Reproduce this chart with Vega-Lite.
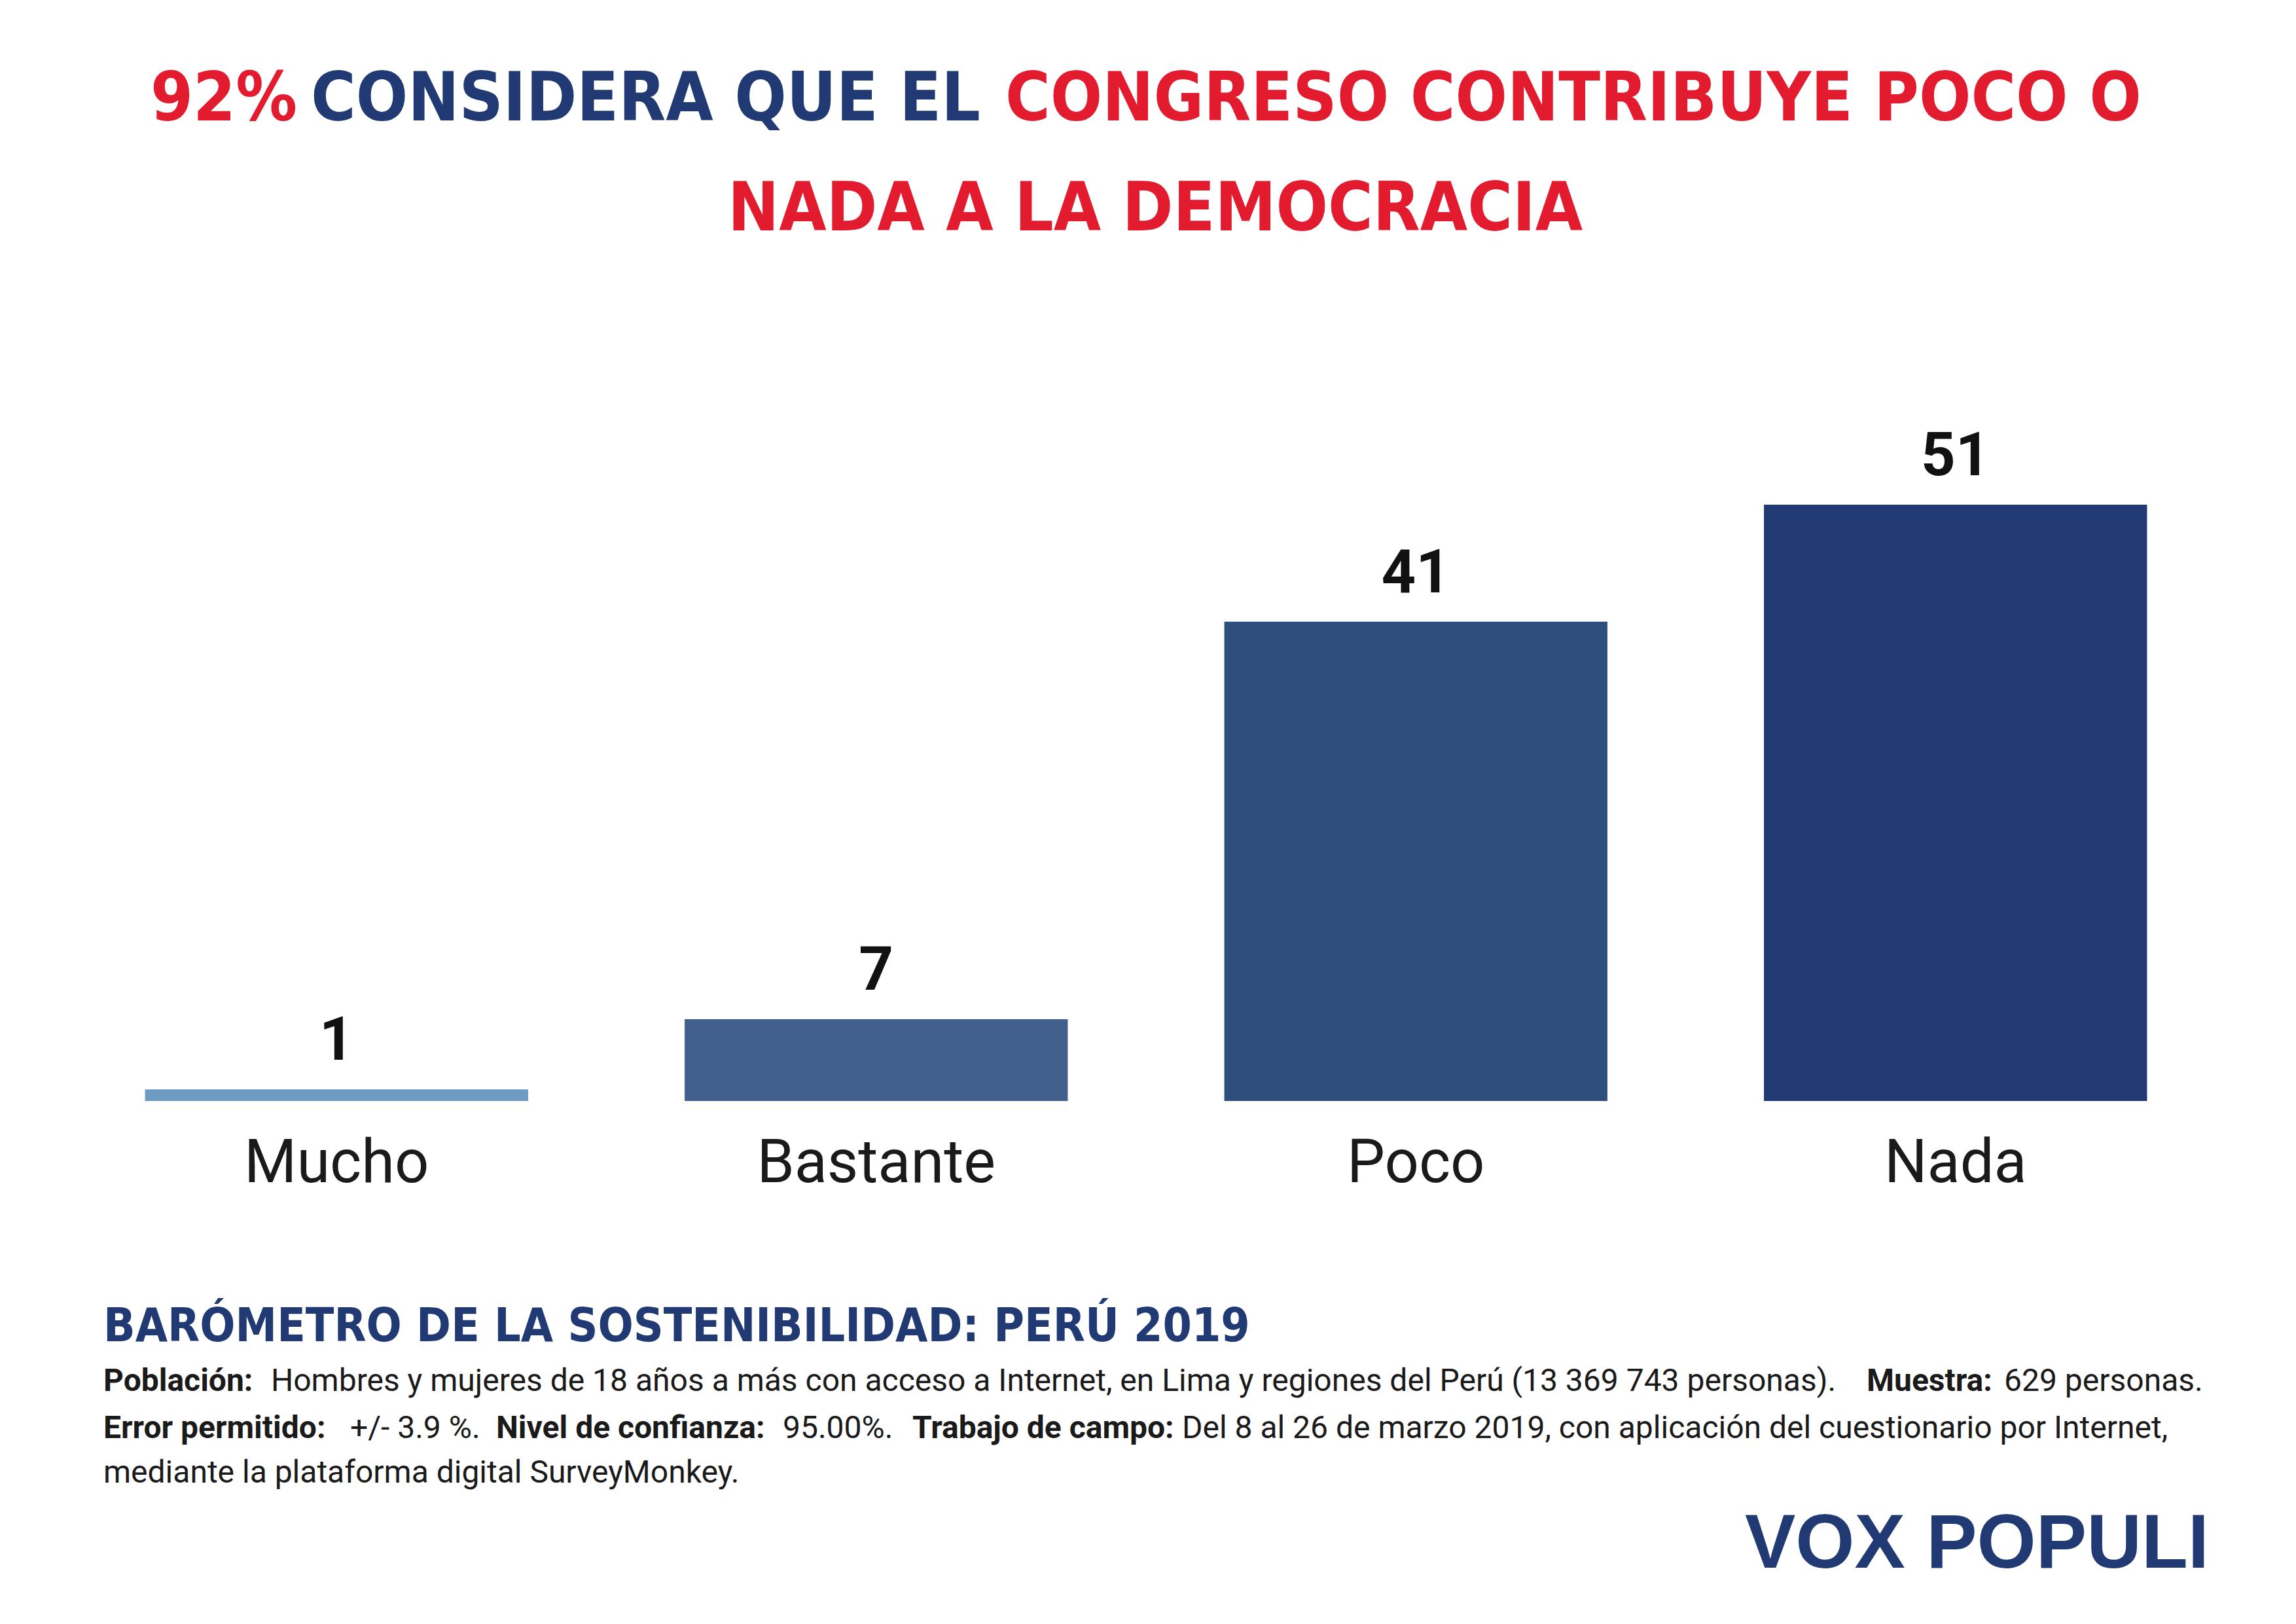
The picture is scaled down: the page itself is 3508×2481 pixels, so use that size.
{
  "$schema": "https://vega.github.io/schema/vega-lite/v6.json",
  "width": 3508,
  "height": 2481,
  "autosize": "none",
  "padding": 0,
  "background": "white",
  "config": {"view": {"stroke": null}, "text": {"font": "Roboto", "align": "left", "baseline": "alphabetic"}},
  "data": {"values": [
    {"cat": "Mucho", "v": 1},
    {"cat": "Bastante", "v": 7},
    {"cat": "Poco", "v": 41},
    {"cat": "Nada", "v": 51}
  ]},
  "layer": [
    {
      "mark": {"type": "bar"},
      "encoding": {
        "x": {"field": "cat", "type": "nominal", "sort": null, "axis": null, "scale": {"range": [102, 3400], "paddingInner": 0.29, "paddingOuter": 0.145}},
        "y": {"field": "v", "type": "quantitative", "axis": null, "scale": {"domain": [0, 51], "range": [1682, 771], "nice": false}},
        "color": {"field": "cat", "type": "nominal", "legend": null, "scale": {"domain": ["Mucho", "Bastante", "Poco", "Nada"], "range": ["#6f9ac2", "#41608c", "#2e4f7e", "#213a73"]}}
      }
    },
    {
      "mark": {"type": "text", "align": "center", "fontSize": 92, "fontWeight": "bold", "color": "#111", "dy": -45},
      "encoding": {
        "x": {"field": "cat", "type": "nominal", "sort": null},
        "y": {"field": "v", "type": "quantitative"},
        "text": {"field": "v"}
      }
    },
    {
      "mark": {"type": "text", "align": "center", "fontSize": 92, "color": "#1a1a1a", "dy": 124},
      "encoding": {
        "x": {"field": "cat", "type": "nominal", "sort": null},
        "y": {"datum": 0, "type": "quantitative"},
        "text": {"field": "cat"}
      }
    },
    {"data": {"values": [{}]}, "mark": {"type": "text", "font": "DejaVu Sans Condensed", "fontWeight": "bold", "fontSize": 104, "color": "#e31b2f"}, "encoding": {"x": {"value": 230}, "y": {"value": 184}, "text": {"value": "92%"}}},
    {"data": {"values": [{}]}, "mark": {"type": "text", "font": "DejaVu Sans Condensed", "fontWeight": "bold", "fontSize": 104, "color": "#213a73"}, "encoding": {"x": {"value": 475}, "y": {"value": 184}, "text": {"value": "CONSIDERA QUE EL"}}},
    {"data": {"values": [{}]}, "mark": {"type": "text", "font": "DejaVu Sans Condensed", "fontWeight": "bold", "fontSize": 104, "color": "#e31b2f"}, "encoding": {"x": {"value": 1536}, "y": {"value": 184}, "text": {"value": "CONGRESO CONTRIBUYE POCO O"}}},
    {"data": {"values": [{}]}, "mark": {"type": "text", "font": "DejaVu Sans Condensed", "fontWeight": "bold", "fontSize": 104, "color": "#e31b2f", "align": "center"}, "encoding": {"x": {"value": 1765}, "y": {"value": 352}, "text": {"value": "NADA A LA DEMOCRACIA"}}},
    {"data": {"values": [{}]}, "mark": {"type": "text", "font": "DejaVu Sans Condensed", "fontWeight": "bold", "fontSize": 71, "color": "#213a73"}, "encoding": {"x": {"value": 158}, "y": {"value": 2049}, "text": {"value": "BARÓMETRO DE LA SOSTENIBILIDAD: PERÚ 2019"}}},
    {"data": {"values": [{}]}, "mark": {"type": "text", "fontSize": 48, "fontWeight": "bold", "color": "#1a1a1a"}, "encoding": {"x": {"value": 158}, "y": {"value": 2125}, "text": {"value": "Población:"}}},
    {"data": {"values": [{}]}, "mark": {"type": "text", "fontSize": 48, "color": "#1a1a1a"}, "encoding": {"x": {"value": 414}, "y": {"value": 2125}, "text": {"value": "Hombres y mujeres de 18 años a más con acceso a Internet, en Lima y regiones del Perú (13 369 743 personas)."}}},
    {"data": {"values": [{}]}, "mark": {"type": "text", "fontSize": 48, "fontWeight": "bold", "color": "#1a1a1a"}, "encoding": {"x": {"value": 2852}, "y": {"value": 2125}, "text": {"value": "Muestra:"}}},
    {"data": {"values": [{}]}, "mark": {"type": "text", "fontSize": 48, "color": "#1a1a1a"}, "encoding": {"x": {"value": 3062}, "y": {"value": 2125}, "text": {"value": "629 personas."}}},
    {"data": {"values": [{}]}, "mark": {"type": "text", "fontSize": 48, "fontWeight": "bold", "color": "#1a1a1a"}, "encoding": {"x": {"value": 158}, "y": {"value": 2197}, "text": {"value": "Error permitido:"}}},
    {"data": {"values": [{}]}, "mark": {"type": "text", "fontSize": 48, "color": "#1a1a1a"}, "encoding": {"x": {"value": 535}, "y": {"value": 2197}, "text": {"value": "+/- 3.9 %."}}},
    {"data": {"values": [{}]}, "mark": {"type": "text", "fontSize": 48, "fontWeight": "bold", "color": "#1a1a1a"}, "encoding": {"x": {"value": 758}, "y": {"value": 2197}, "text": {"value": "Nivel de confianza:"}}},
    {"data": {"values": [{}]}, "mark": {"type": "text", "fontSize": 48, "color": "#1a1a1a"}, "encoding": {"x": {"value": 1196}, "y": {"value": 2197}, "text": {"value": "95.00%."}}},
    {"data": {"values": [{}]}, "mark": {"type": "text", "fontSize": 48, "fontWeight": "bold", "color": "#1a1a1a"}, "encoding": {"x": {"value": 1394}, "y": {"value": 2197}, "text": {"value": "Trabajo de campo:"}}},
    {"data": {"values": [{}]}, "mark": {"type": "text", "fontSize": 48, "color": "#1a1a1a"}, "encoding": {"x": {"value": 1806}, "y": {"value": 2197}, "text": {"value": "Del 8 al 26 de marzo 2019, con aplicación del cuestionario por Internet,"}}},
    {"data": {"values": [{}]}, "mark": {"type": "text", "fontSize": 48, "color": "#1a1a1a"}, "encoding": {"x": {"value": 158}, "y": {"value": 2265}, "text": {"value": "mediante la plataforma digital SurveyMonkey."}}},
    {"data": {"values": [{}]}, "mark": {"type": "text", "font": "Liberation Sans", "fontWeight": "bold", "fontSize": 116, "color": "#213a73", "align": "right", "letterSpacing": -6}, "encoding": {"x": {"value": 3375}, "y": {"value": 2395}, "text": {"value": "VOX POPULI"}}}
  ]
}
